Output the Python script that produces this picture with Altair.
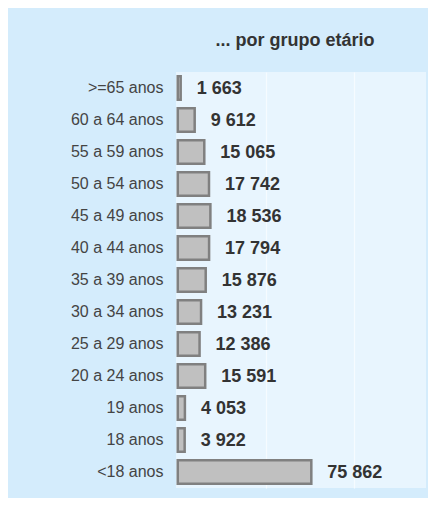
import altair as alt
import pandas as pd

categories = ["<18 anos", "18 anos", "19 anos", "20 a 24 anos", "25 a 29 anos",
              "30 a 34 anos", "35 a 39 anos", "40 a 44 anos", "45 a 49 anos",
              "50 a 54 anos", "55 a 59 anos", "60 a 64 anos", ">=65 anos"]
values = [75862, 3922, 4053, 15591, 12386, 13231, 15876, 17794, 18536,
          17742, 15065, 9612, 1663]
labels = ["75 862", "3 922", "4 053", "15 591", "12 386", "13 231", "15 876",
          "17 794", "18 536", "17 742", "15 065", "9 612", "1 663"]

df = pd.DataFrame({"grupo": categories, "valor": values, "rotulo": labels})
order = categories[::-1]

FONT = "Liberation Sans"

y_enc = alt.Y("grupo:N", sort=order, title=None,
              scale=alt.Scale(paddingInner=0.27, paddingOuter=0.135),
              axis=alt.Axis(domain=False, ticks=False, labelPadding=13,
                            labelFontSize=16, labelFont=FONT, labelColor="#444444"))
x_enc = alt.X("valor:Q", title=None,
              scale=alt.Scale(domain=[-1000, 141000], nice=False, zero=False),
              axis=alt.Axis(values=[50000, 100000], labels=False, ticks=False,
                            domain=False, grid=True, gridColor="#f6fbff",
                            gridWidth=1.2))

bars = alt.Chart(df).mark_bar(fill="#c0c0c0", stroke="#808080",
                              strokeWidth=2.5).encode(
    x=x_enc, x2=alt.datum(0), y=y_enc)

text = alt.Chart(df).mark_text(align="left", baseline="middle", dx=16, dy=1,
                               fontSize=18, fontWeight="bold", font=FONT,
                               color="#333333").encode(
    x=alt.X("valor:Q"), y=alt.Y("grupo:N", sort=order), text="rotulo:N")

chart = (bars + text).properties(
    width=250, height=416,
    background="#d4ecfc",
    padding={"left": 168, "top": 64, "right": 2, "bottom": 10},
    autosize=alt.AutoSizeParams(type="none"),
    title=alt.TitleParams("... por grupo etário", fontSize=18, fontWeight="bold",
                          font=FONT, color="#333333", anchor="middle",
                          offset=22, dx=-6),
).configure_view(fill="#e8f5fe", stroke=None)

chart.save("out.html", embed_options={"renderer": "svg", "actions": False})
